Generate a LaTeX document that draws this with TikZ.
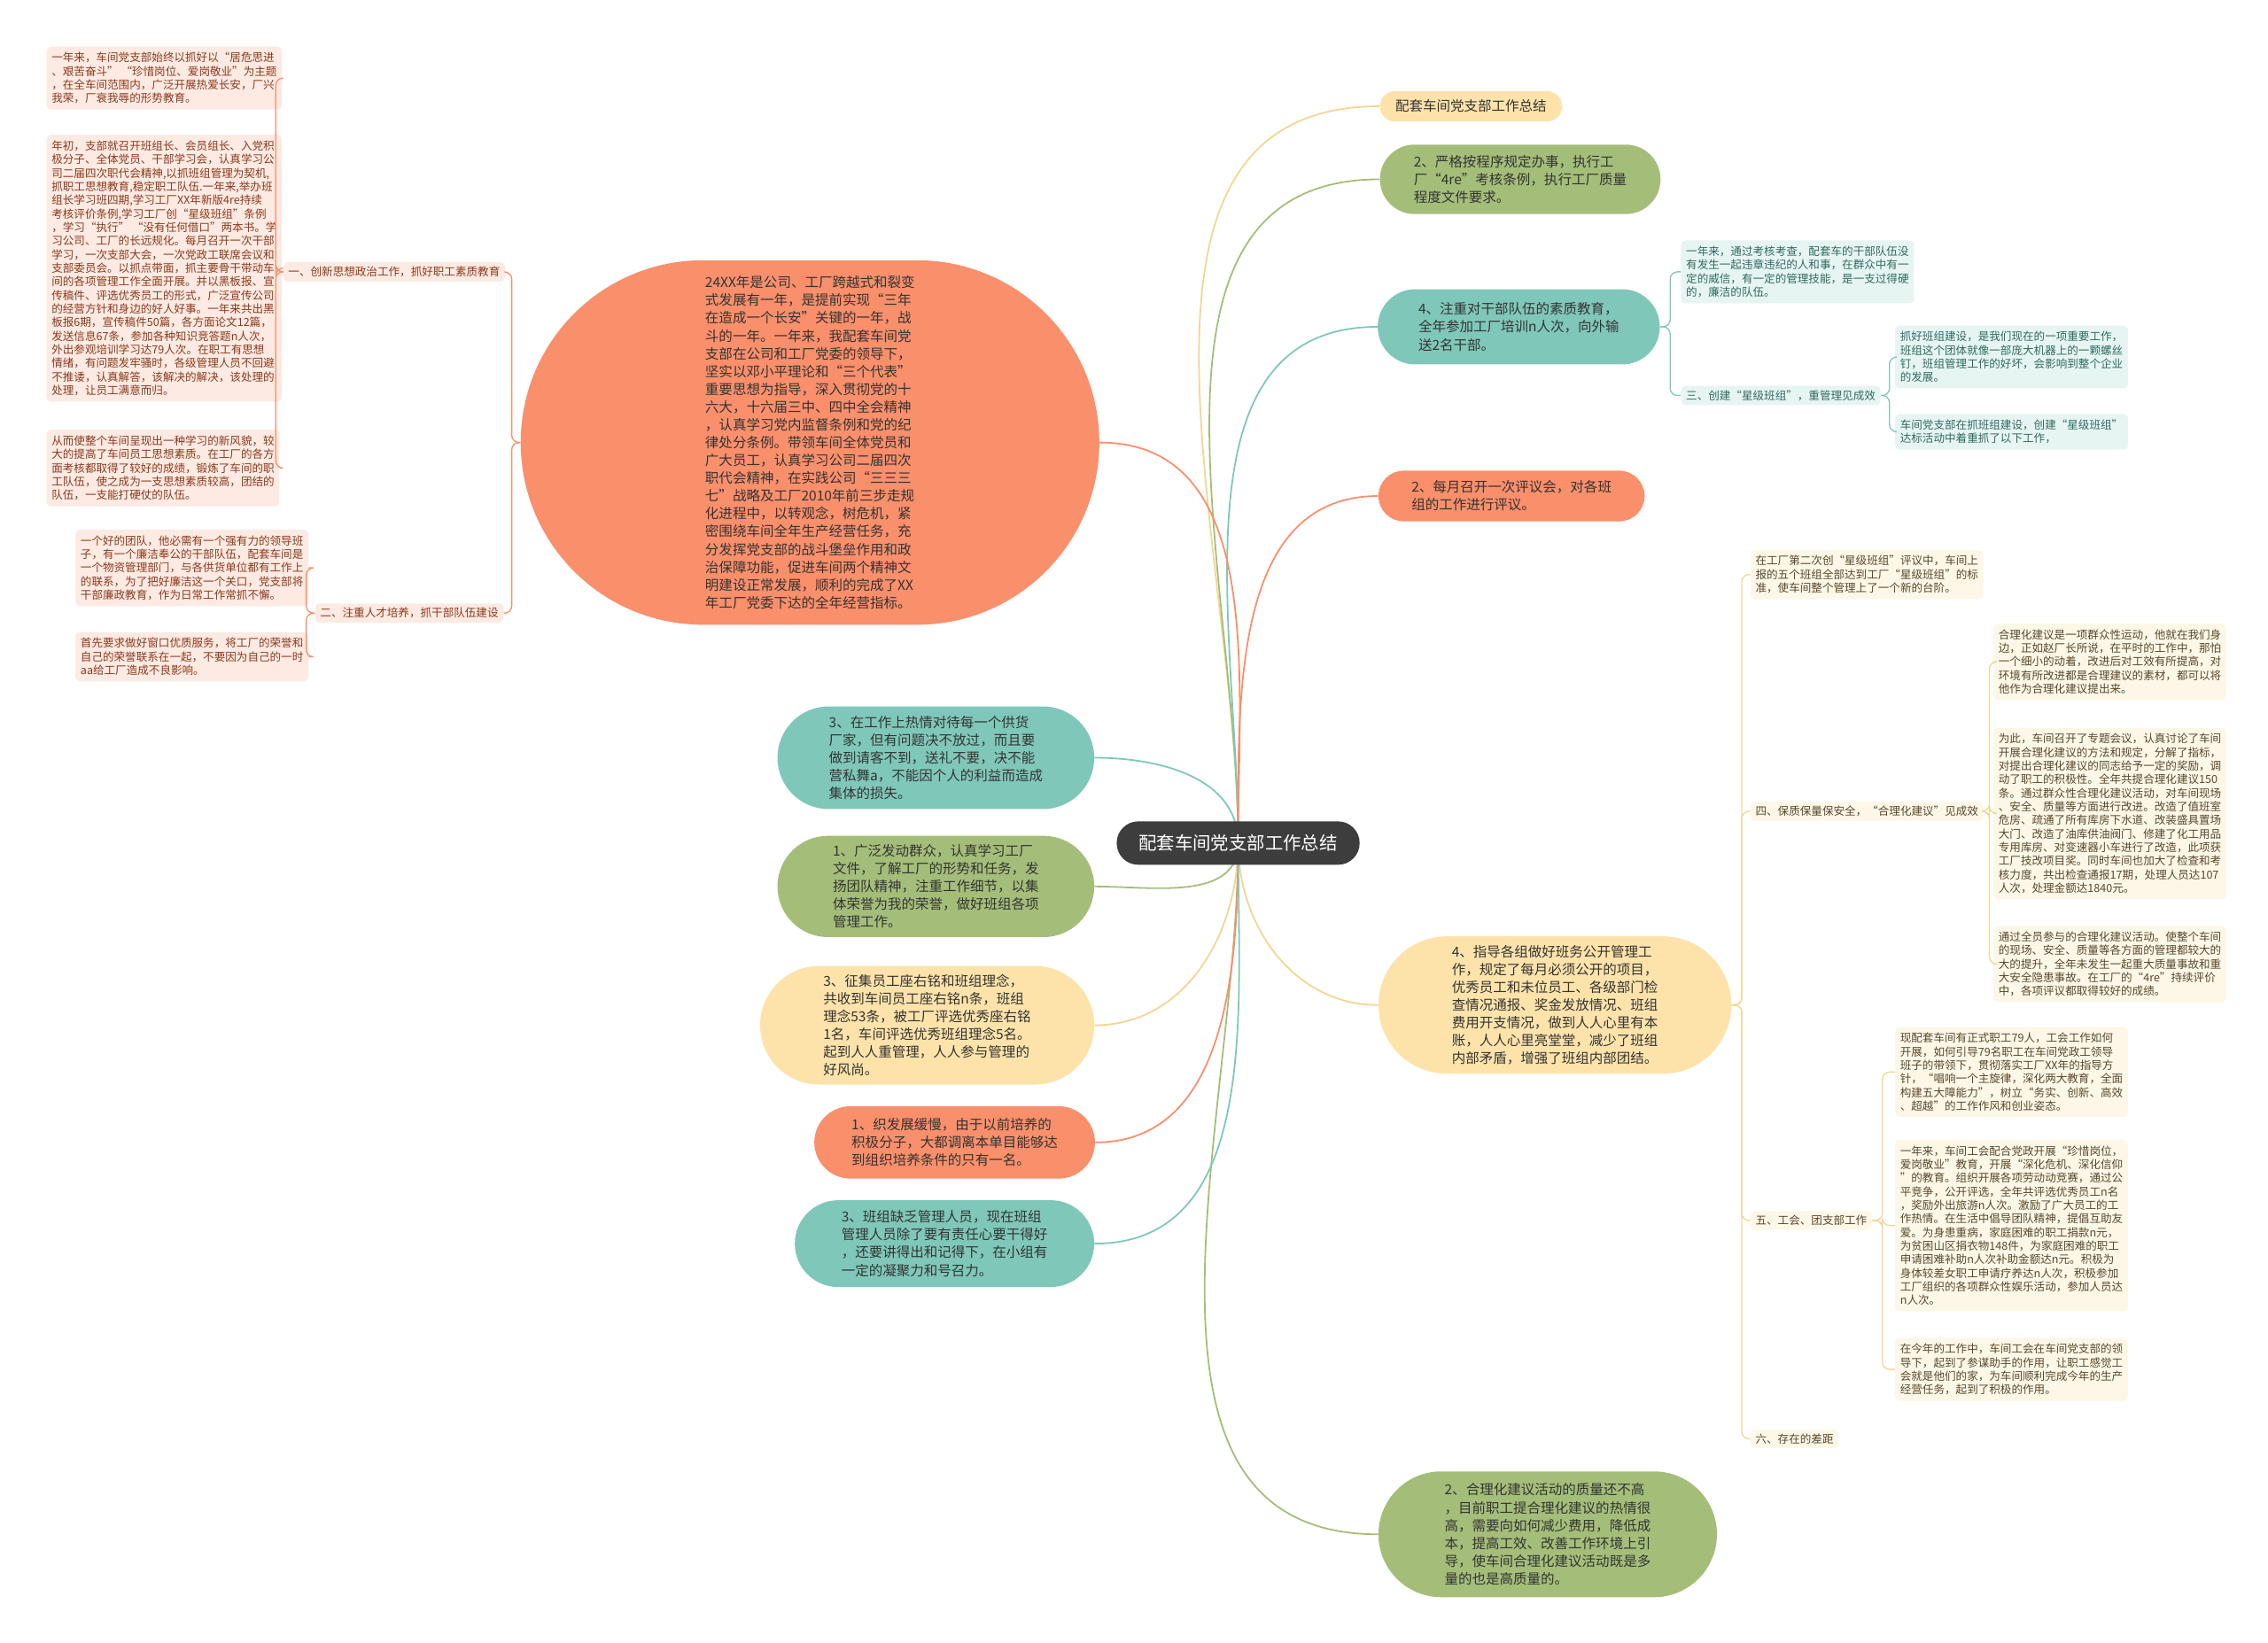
\documentclass[tikz,border=0pt]{standalone}
\usepackage{fontspec}
\setmainfont{Noto Sans CJK SC}
\usetikzlibrary{backgrounds}

\definecolor{cOrange}{HTML}{F98F6B}
\definecolor{cGreen}{HTML}{A4BE79}
\definecolor{cTeal}{HTML}{7FC8B9}
\definecolor{cYellow}{HTML}{FDE3AA}
\definecolor{cRoot}{HTML}{3D3D3D}
\definecolor{lYellow}{HTML}{F4D592}
\definecolor{fPink}{HTML}{FCEAE3}
\definecolor{fTeal}{HTML}{E7F5F2}
\definecolor{fCream}{HTML}{FDF7E7}
\definecolor{tPink}{HTML}{8A3A1C}
\definecolor{tTeal}{HTML}{2E6A60}
\definecolor{tCream}{HTML}{57482C}

\newcommand\fsmall{\fontsize{7.7}{9.4}\selectfont}
\newcommand\fmid{\fontsize{9.5}{12.3}\selectfont}

\tikzset{
  pill/.style={rounded corners=#1/2-0.05, minimum height=#1, inner sep=0pt, align=left, font=\fmid, text=black!80},
  leaf/.style={rounded corners=3, inner xsep=3.5, inner ysep=4, align=left, font=\fsmall, anchor=north west},
  lab/.style={rounded corners=3, inner xsep=3.5, inner ysep=3, font=\fsmall},
  edge/.style={line width=1.1pt},
  brace/.style={line width=0.8pt, rounded corners=5},
}

\begin{document}
\begin{tikzpicture}[x=1pt, y=-1pt]
  \useasboundingbox (0,0) rectangle (1568,1136);

  % root
  \node[pill=30, minimum width=168, fill=cRoot, text=white, font=\fontsize{12.5}{14}\selectfont] (root) at (856,583) {配套车间党支部工作总结};

  % right branches
  \node[pill=21, minimum width=126, fill=cYellow] (a) at (1017,73.5) {配套车间党支部工作总结};
  \node[pill=48, minimum width=194, fill=cGreen] (b) at (1051,124) {2、严格按程序规定办事，执行工\\厂“4re”考核条例，执行工厂质量\\程度文件要求。};
  \node[pill=52, minimum width=195, fill=cTeal] (c) at (1050,226) {4、注重对干部队伍的素质教育，\\全年参加工厂培训n人次，向外输\\送2名干部。};
  \node[pill=35, minimum width=184, fill=cOrange] (d) at (1045,343) {2、每月召开一次评议会，对各班\\组的工作进行评议。};
  \node[pill=95, minimum width=244, fill=cYellow] (e) at (1075,695) {4、指导各组做好班务公开管理工\\作，规定了每月必须公开的项目，\\优秀员工和未位员工、各级部门检\\查情况通报、奖金发放情况、班组\\费用开支情况，做到人人心里有本\\账，人人心里亮堂堂，减少了班组\\内部矛盾，增强了班组内部团结。};
  \node[pill=87, minimum width=234, fill=cGreen] (f) at (1070,1061) {2、合理化建议活动的质量还不高\\，目前职工提合理化建议的热情很\\高，需要向如何减少费用，降低成\\本，提高工效、改善工作环境上引\\导，使车间合理化建议活动既是多\\量的也是高质量的。};

  % left branches
  \node[pill=252, minimum width=400, fill=cOrange] (g) at (560,306) {24XX年是公司、工厂跨越式和裂变\\式发展有一年，是提前实现“三年\\在造成一个长安”关键的一年，战\\斗的一年。一年来，我配套车间党\\支部在公司和工厂党委的领导下，\\坚实以邓小平理论和“三个代表”\\重要思想为指导，深入贯彻党的十\\六大，十六届三中、四中全会精神\\，认真学习党内监督条例和党的纪\\律处分条例。带领车间全体党员和\\广大员工，认真学习公司二届四次\\职代会精神，在实践公司“三三三\\七”战略及工厂2010年前三步走规\\化进程中，以转观念，树危机，紧\\密围绕车间全年生产经营任务，充\\分发挥党支部的战斗堡垒作用和政\\治保障功能，促进车间两个精神文\\明建设正常发展，顺利的完成了XX\\年工厂党委下达的全年经营指标。};
  \node[pill=71, minimum width=219, fill=cTeal] (n1) at (647,524) {3、在工作上热情对待每一个供货\\厂家，但有问题决不放过，而且要\\做到请客不到，送礼不要，决不能\\营私舞a，不能因个人的利益而造成\\集体的损失。};
  \node[pill=70, minimum width=219, fill=cGreen] (n2) at (647,613) {1、广泛发动群众，认真学习工厂\\文件，了解工厂的形势和任务，发\\扬团队精神，注重工作细节，以集\\体荣誉为我的荣誉，做好班组各项\\管理工作。};
  \node[pill=82, minimum width=231, fill=cYellow] (n3) at (641,709) {3、征集员工座右铭和班组理念，\\共收到车间员工座右铭n条，班组\\理念53条，被工厂评选优秀座右铭\\1名，车间评选优秀班组理念5名。\\起到人人重管理，人人参与管理的\\好风尚。};
  \node[pill=50, minimum width=194, fill=cOrange] (n4) at (660,790) {1、织发展缓慢，由于以前培养的\\积极分子，大都调离本单目能够达\\到组织培养条件的只有一名。};
  \node[pill=60, minimum width=207, fill=cTeal] (n5) at (653,860) {3、班组缺乏管理人员，现在班组\\管理人员除了要有责任心要干得好\\，还要讲得出和记得下，在小组有\\一定的凝聚力和号召力。};

  % under the big node
  \node[lab, fill=fPink, text=tPink] (lab1) at (272.5,188) {一、创新思想政治工作，抓好职工素质教育};
  \node[lab, fill=fPink, text=tPink] (lab2) at (283,424) {二、注重人才培养，抓干部队伍建设};
  \node[leaf, minimum width=154, fill=fPink, text=tPink] (l1) at (32,32) {一年来，车间党支部始终以抓好以“居危思进\\、艰苦奋斗” “珍惜岗位、爱岗敬业”为主题\\，在全车间范围内，广泛开展热爱长安，厂兴\\我荣，厂衰我辱的形势教育。};
  \node[leaf, minimum width=154, fill=fPink, text=tPink] (l2) at (32,93) {年初，支部就召开班组长、会员组长、入党积\\极分子、全体党员、干部学习会，认真学习公\\司二届四次职代会精神,以抓班组管理为契机,\\抓职工思想教育,稳定职工队伍.一年来,举办班\\组长学习班四期,学习工厂XX年新版4re持续\\考核评价条例,学习工厂创“星级班组”条例\\，学习“执行” “没有任何借口”两本书。学\\习公司、工厂的长远规化。每月召开一次干部\\学习，一次支部大会，一次党政工联席会议和\\支部委员会。以抓点带面，抓主要骨干带动车\\间的各项管理工作全面开展。并以黑板报、宣\\传稿件、评选优秀员工的形式，广泛宣传公司\\的经营方针和身边的好人好事。一年来共出黑\\板报6期，宣传稿件50篇，各方面论文12篇，\\发送信息67条，参加各种知识竞答题n人次，\\外出参观培训学习达79人次。在职工有思想\\情绪，有问题发牢骚时，各级管理人员不回避\\不推诿，认真解答，该解决的解决，该处理的\\处理，让员工满意而归。};
  \node[leaf, minimum width=154, fill=fPink, text=tPink] (l3) at (32,297) {从而使整个车间呈现出一种学习的新风貌，较\\大的提高了车间员工思想素质。在工厂的各方\\面考核都取得了较好的成绩，锻炼了车间的职\\工队伍，使之成为一支思想素质较高，团结的\\队伍，一支能打硬仗的队伍。};
  \node[leaf, minimum width=153, fill=fPink, text=tPink] (m1) at (52,366) {一个好的团队，他必需有一个强有力的领导班\\子，有一个廉洁奉公的干部队伍，配套车间是\\一个物资管理部门，与各供货单位都有工作上\\的联系，为了把好廉洁这一个关口，党支部将\\干部廉政教育，作为日常工作常抓不懈。};
  \node[leaf, minimum width=153, fill=fPink, text=tPink] (m2) at (52,437) {首先要求做好窗口优质服务，将工厂的荣誉和\\自己的荣誉联系在一起，不要因为自己的一时\\aa给工厂造成不良影响。};

  % under node 4 (teal)
  \node[leaf, minimum width=158, fill=fTeal, text=tTeal] (t1) at (1162,166) {一年来，通过考核考查，配套车的干部队伍没\\有发生一起违章违纪的人和事，在群众中有一\\定的威信，有一定的管理技能，是一支过得硬\\的，廉洁的队伍。};
  \node[lab, fill=fTeal, text=tTeal, anchor=west] (lab3) at (1162,273.5) {三、创建“星级班组”，重管理见成效};
  \node[leaf, minimum width=152, fill=fTeal, text=tTeal] (t2) at (1310,225) {抓好班组建设，是我们现在的一项重要工作，\\班组这个团体就像一部庞大机器上的一颗螺丝\\钉，班组管理工作的好坏，会影响到整个企业\\的发展。};
  \node[leaf, minimum width=152, fill=fTeal, text=tTeal] (t3) at (1310,286) {车间党支部在抓班组建设，创建“星级班组”\\达标活动中着重抓了以下工作，};

  % under node 4 (yellow)
  \node[leaf, minimum width=160, fill=fCream, text=tCream] (y1) at (1210,380) {在工厂第二次创“星级班组”评议中，车间上\\报的五个班组全部达到工厂“星级班组”的标\\准，使车间整个管理上了一个新的台阶。};
  \node[lab, fill=fCream, text=tCream, anchor=west] (lab4) at (1210,561) {四、保质保量保安全，“合理化建议”见成效};
  \node[lab, fill=fCream, text=tCream, anchor=west] (lab5) at (1210,844) {五、工会、团支部工作};
  \node[lab, fill=fCream, text=tCream, anchor=west] (lab6) at (1210,995) {六、存在的差距};
  \node[leaf, minimum width=157, fill=fCream, text=tCream] (y2) at (1378,431) {合理化建议是一项群众性运动，他就在我们身\\边，正如赵厂长所说，在平时的工作中，那怕\\一个细小的动着，改进后对工效有所提高，对\\环境有所改进都是合理建议的素材，都可以将\\他作为合理化建议提出来。};
  \node[leaf, minimum width=157, fill=fCream, text=tCream] (y3) at (1378,503) {为此，车间召开了专题会议，认真讨论了车间\\开展合理化建议的方法和规定，分解了指标，\\对提出合理化建议的同志给予一定的奖励，调\\动了职工的积极性。全年共提合理化建议150\\条。通过群众性合理化建议活动，对车间现场\\、安全、质量等方面进行改进。改造了值班室\\危房、疏通了所有库房下水道、改装盛具置场\\大门、改造了油库供油阀门、修建了化工用品\\专用库房、对变速器小车进行了改造，此项获\\工厂技改项目奖。同时车间也加大了检查和考\\核力度，共出检查通报17期，处理人员达107\\人次，处理金额达1840元。};
  \node[leaf, minimum width=157, fill=fCream, text=tCream] (y4) at (1378,640) {通过全员参与的合理化建议活动。使整个车间\\的现场、安全、质量等各方面的管理都较大的\\大的提升，全年未发生一起重大质量事故和重\\大安全隐患事故。在工厂的“4re”持续评价\\中，各项评议都取得较好的成绩。};
  \node[leaf, minimum width=152, fill=fCream, text=tCream] (y5) at (1310,710) {现配套车间有正式职工79人，工会工作如何\\开展，如何引导79名职工在车间党政工领导\\班子的带领下，贯彻落实工厂XX年的指导方\\针，“唱响一个主旋律，深化两大教育，全面\\构建五大障能力”，树立“务实、创新、高效\\、超越”的工作作风和创业姿态。};
  \node[leaf, minimum width=152, fill=fCream, text=tCream] (y6) at (1310,788) {一年来，车间工会配合党政开展“珍惜岗位，\\爱岗敬业”教育，开展“深化危机、深化信仰\\”的教育。组织开展各项劳动动竞赛，通过公\\平竞争，公开评选，全年共评选优秀员工n名\\，奖励外出旅游n人次。激励了广大员工的工\\作热情。在生活中倡导团队精神，提倡互助友\\爱。为身患重病，家庭困难的职工捐款n元，\\为贫困山区捐衣物148件，为家庭困难的职工\\申请困难补助n人次补助金额达n元。积极为\\身体较差女职工申请疗养达n人次，积极参加\\工厂组织的各项群众性娱乐活动，参加人员达\\n人次。};
  \node[leaf, minimum width=152, fill=fCream, text=tCream] (y7) at (1310,925) {在今年的工作中，车间工会在车间党支部的领\\导下，起到了参谋助手的作用，让职工感觉工\\会就是他们的家，为车间顺利完成今年的生产\\经营任务，起到了积极的作用。};

  \begin{scope}[on background layer]
    % from the root
    \draw[edge, lYellow] (root.center) to[out=90, in=180] (a.west);
    \draw[edge, cGreen] (root.center) to[out=90, in=180] (b.west);
    \draw[edge, cTeal] (root.center) to[out=90, in=180] (c.west);
    \draw[edge, cOrange] (root.center) to[out=90, in=180] (d.west);
    \draw[edge, lYellow] (root.center) to[out=-90, in=180] (e.west);
    \draw[edge, cGreen] (root.center) to[out=-90, in=180] (f.west);
    \draw[edge, cOrange] (root.center) to[out=90, in=0] (g.east);
    \draw[edge, cTeal] (root.center) to[out=90, in=0] (n1.east);
    \draw[edge, cGreen] (root.center) to[out=-90, in=0] (n2.east);
    \draw[edge, lYellow] (root.center) to[out=-90, in=0] (n3.east);
    \draw[edge, cOrange] (root.center) to[out=-90, in=0] (n4.east);
    \draw[edge, cTeal] (root.center) to[out=-90, in=0] (n5.east);
  \end{scope}

  % brackets
  \foreach \n in {lab1,lab2}
    \draw[brace, cOrange] (g.west) -- ++(-6,0) |- (\n.east);
  \foreach \n in {l1,l2,l3}
    \draw[brace, cOrange] (lab1.west) -- ++(-5,0) |- (\n.east);
  \foreach \n in {m1,m2}
    \draw[brace, cOrange] (lab2.west) -- ++(-6,0) |- (\n.east);
  \foreach \n in {t1,lab3}
    \draw[brace, cTeal] (c.east) -- ++(7,0) |- (\n.west);
  \foreach \n in {t2,t3}
    \draw[brace, cTeal] (lab3.east) -- ++(6,0) |- (\n.west);
  \foreach \n in {y1,lab4,lab5,lab6}
    \draw[brace, lYellow] (e.east) -- ++(7,0) |- (\n.west);
  \foreach \n in {y2,y3,y4}
    \draw[brace, lYellow] (lab4.east) -- ++(4,0) |- (\n.west);
  \foreach \n in {y5,y6,y7}
    \draw[brace, lYellow] (lab5.east) -- ++(7,0) |- (\n.west);
\end{tikzpicture}
\end{document}
